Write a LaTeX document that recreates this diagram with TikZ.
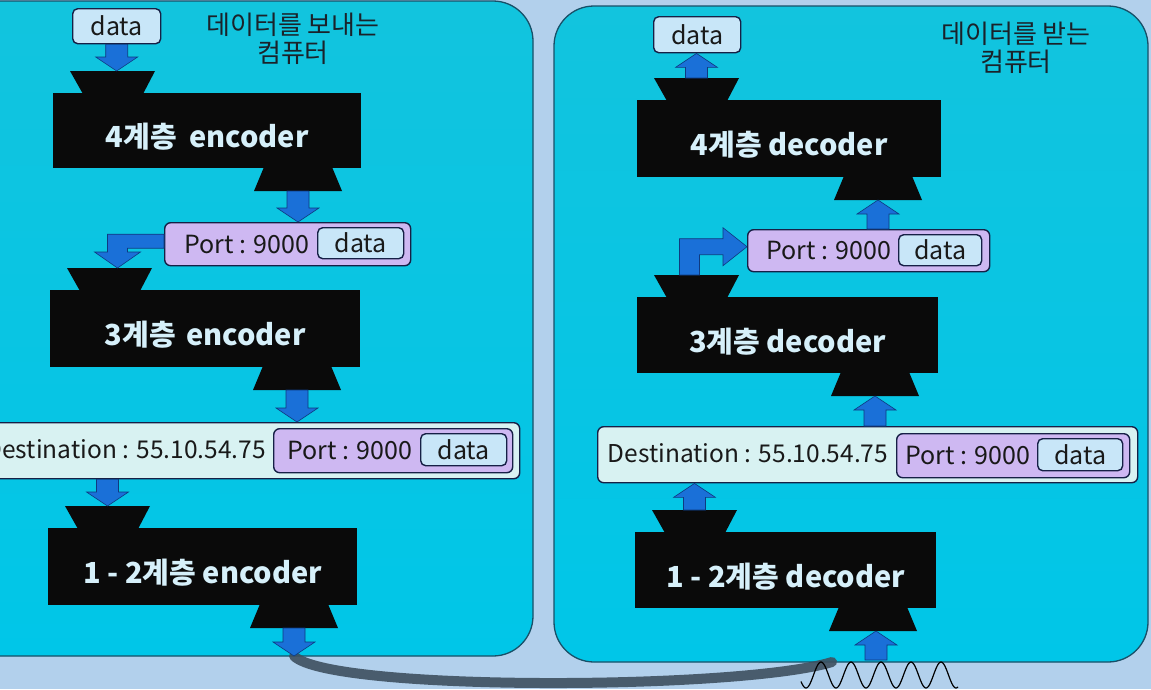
\documentclass[tikz,border=0pt]{standalone}
\usepackage{fontspec}
\setmainfont{Noto Sans CJK KR}
\usetikzlibrary{calc}
\definecolor{bgc}{RGB}{178,208,236}
\definecolor{panelA}{RGB}{18,196,222}
\definecolor{panelB}{RGB}{0,198,232}
\definecolor{panelline}{RGB}{24,80,104}
\definecolor{arrowblue}{RGB}{26,112,216}
\definecolor{arrowline}{RGB}{14,58,128}
\definecolor{datafill}{RGB}{200,230,248}
\definecolor{portfill}{RGB}{206,184,242}
\definecolor{destfill}{RGB}{216,242,242}
\definecolor{boxline}{RGB}{22,32,70}
\definecolor{layertext}{RGB}{214,240,250}
\definecolor{titletext}{RGB}{26,34,42}
\definecolor{cablec}{RGB}{62,80,96}

\newcommand\layerblock[6]{%
  \fill[layerfill] (#2+17,#3-22) -- (#2+102,#3-22) -- (#2+90,#3+1) -- (#2+30,#3+1) -- cycle;
  \fill[layerfill] (#2+#4-97,#3+#5-1) -- (#2+#4-29,#3+#5-1) -- (#2+#4-19,#3+#5+23) -- (#2+#4-107,#3+#5+23) -- cycle;
  \node[layerbox, minimum width=#4pt, minimum height=#5pt, anchor=north west] (#1) at (#2,#3) {};
  \node[layertxt] (#1-label) at ($(#1.center)+(0,6)$) {#6};
  \coordinate (#1-in) at (#2+59.5,#3-22);
  \coordinate (#1-out) at (#2+#4-63,#3+#5+23);
}
\newcommand\arrowdown[2]{\filldraw[blockarrow] let \p1=#1, \p2=#2 in
  (\x1-11pt,\y1) -- (\x1-11pt,\y2+14pt) -- (\x1-21pt,\y2+14pt) -- (\x1,\y2) -- (\x1+21pt,\y2+14pt) -- (\x1+11pt,\y2+14pt) -- (\x1+11pt,\y1) -- cycle;}
\newcommand\arrowup[2]{\filldraw[blockarrow] let \p1=#1, \p2=#2 in
  (\x1-11pt,\y1) -- (\x1-11pt,\y2-14pt) -- (\x1-21pt,\y2-14pt) -- (\x1,\y2) -- (\x1+21pt,\y2-14pt) -- (\x1+11pt,\y2-14pt) -- (\x1+11pt,\y1) -- cycle;}

\begin{document}
\begin{tikzpicture}[x=1pt,y=-1pt,
  layerfill/.style={fill=black!96},
  layerbox/.style={fill=black!96, draw=none, inner sep=0pt},
  layertxt/.style={text=layertext, font=\fontsize{29}{34}\selectfont\bfseries, inner sep=0pt},
  boxtxt/.style={text=black!90, font=\fontsize{25}{30}\selectfont, inner sep=0pt},
  desttxt/.style={text=black!90, font=\fontsize{24.5}{30}\selectfont, inner sep=0pt},
  databox/.style={draw=boxline, line width=1.4pt, fill=datafill, rounded corners=5pt, inner sep=0pt, boxtxt},
  portbox/.style={draw=boxline, line width=1.4pt, fill=portfill, rounded corners=6pt, inner sep=0pt},
  destbox/.style={draw=boxline, line width=1.4pt, fill=destfill, rounded corners=6pt, inner sep=0pt},
  blockarrow/.style={fill=arrowblue, draw=arrowline, line width=0.6pt},
  panel/.style={draw=panelline, line width=1.3pt, top color=panelA, bottom color=panelB, rounded corners=40pt},
  titlestyle/.style={text=titletext, font=\fontsize{26}{28}\selectfont, align=center, inner sep=0pt}]
\useasboundingbox (0,0) rectangle (1151,689);
\clip (0,0) rectangle (1151,689);
\fill[bgc] (0,0) rectangle (1151,689);

% panels
\path[panel] (-40,1) rectangle (533,656);
\path[panel] (554,6) rectangle (1148,662);

% titles
\node[titlestyle] (title1) at (293,39) {데이터를 보내는\\컴퓨터};
\node[titlestyle] (title2) at (1016,48) {데이터를 받는\\컴퓨터};

% cable and wave
\coordinate (cableA) at (294,656);
\coordinate (cableB) at (832,662);
\coordinate (waveA) at (876,660);
\draw[cablec, line width=10pt, line cap=round, opacity=0.9] (cableA) .. controls (330,692) and (740,690) .. (cableB);
\draw[black, line width=1.2pt] plot[domain=801:958, samples=200] (\x,{675+13*cos(((\x-806)/30)*360)});

% layer blocks
\layerblock{enc4}{53}{93}{308}{75}{4계층\hspace{6pt} encoder}
\layerblock{enc3}{50}{290}{310}{77}{3계층\hspace{4pt} encoder}
\layerblock{enc12}{48}{528}{309}{77}{1 - 2계층 encoder}
\layerblock{dec4}{637}{100}{304}{77}{4계층 decoder}
\layerblock{dec3}{637}{297}{301}{76}{3계층 decoder}
\layerblock{dec12}{635}{532}{301}{76}{1 - 2계층 decoder}

% left boxes
\node[databox, minimum width=88pt, minimum height=35pt, anchor=north west] (data1) at (72,8) {data};
\node[portbox, minimum width=246pt, minimum height=43pt, anchor=north west] (port1) at (164,222) {};
\node[boxtxt] (port1-txt) at (247,244) {Port : 9000};
\node[databox, minimum width=86pt, minimum height=31pt, anchor=north west] (port1-data) at (317,227) {data};
\node[destbox, minimum width=529pt, minimum height=56pt, anchor=north west] (dest1) at (-10,422) {};
\node[desttxt, anchor=east] (dest1-txt) at (266,449) {Destination : 55.10.54.75};
\node[portbox, minimum width=239pt, minimum height=44pt, anchor=north west] (dest1-port) at (273,428) {};
\node[boxtxt] (dest1-porttxt) at (350,450) {Port : 9000};
\node[databox, minimum width=86pt, minimum height=32pt, anchor=north west] (dest1-data) at (420,433) {data};

% right boxes
\node[databox, minimum width=87pt, minimum height=36pt, anchor=north west] (data2) at (653,16) {data};
\node[portbox, minimum width=242pt, minimum height=42pt, anchor=north west] (port2) at (747,229) {};
\node[boxtxt] (port2-txt) at (829,250) {Port : 9000};
\node[databox, minimum width=83pt, minimum height=31pt, anchor=north west] (port2-data) at (898,234) {data};
\node[destbox, minimum width=540pt, minimum height=56pt, anchor=north west] (dest2) at (597,426) {};
\node[desttxt] (dest2-txt) at (748,453) {Destination : 55.10.54.75};
\node[portbox, minimum width=233pt, minimum height=44pt, anchor=north west] (dest2-port) at (896,433) {};
\node[boxtxt] (dest2-porttxt) at (968,455) {Port : 9000};
\node[databox, minimum width=85pt, minimum height=32pt, anchor=north west] (dest2-data) at (1037,438) {data};

% left arrows
\arrowdown{(data1.south)}{(enc4-in)}
\arrowdown{(enc4-out)}{(port1.north)}
\filldraw[blockarrow] let \p1=(port1.west), \p2=(enc3-in), \p3=(\x2+8pt,\y2+16pt) in
  (\x1,\y1+10pt) -- (\x3-10pt,\y1+10pt) -- (\x3-10pt,\y3) -- (\x3-23pt,\y3) -- (\x3,\y2) -- (\x3+23pt,\y3) -- (\x3+10pt,\y3) -- (\x3+10pt,\y1-4pt) -- (\x1,\y1-4pt) -- cycle;
\arrowdown{(enc3-out)}{(dest1.north)}
\arrowdown{(dest1.south -| enc12-in)}{(enc12-in)}
\arrowdown{(enc12-out)}{(cableA)}

% right arrows
\arrowup{(waveA)}{(dec12-out)}
\arrowup{(dec12-in)}{(dest2.south)}
\arrowup{(dest2.north -| dec3-out)}{(dec3-out)}
\filldraw[blockarrow] let \p1=(dec3-in), \p2=(port2.west), \p3=(\x1-7pt,\y2+4pt), \p4=(\x2-24pt,\y2+4pt) in
  (\x3-10pt,\y1) -- (\x3-10pt,\y3+8pt) -- (\x4,\y3+8pt) -- (\x4,\y3+19pt) -- (\x2,\y3) -- (\x4,\y3-19pt) -- (\x4,\y3-8pt) -- (\x3+10pt,\y3-8pt) -- (\x3+10pt,\y1) -- cycle;
\arrowup{(port2.north -| dec4-out)}{(dec4-out)}
\arrowup{(dec4-in)}{(data2.south)}
\end{tikzpicture}
\end{document}
